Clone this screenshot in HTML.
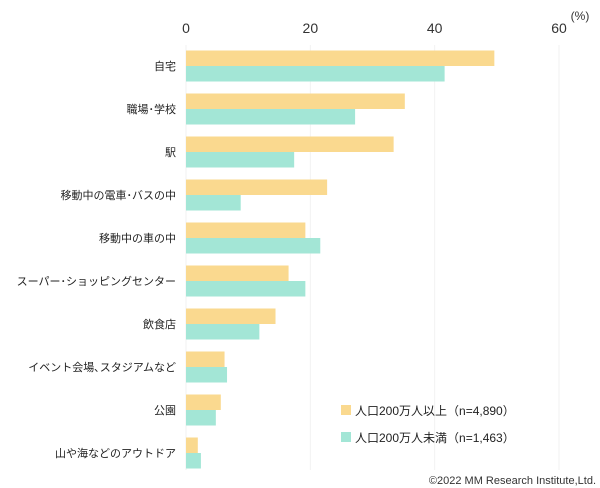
<!DOCTYPE html>
<html><head><meta charset="utf-8"><style>
body{margin:0;background:#fff;}
svg{display:block;font-family:"Liberation Sans","Noto Sans CJK JP",sans-serif;}
</style></head><body>
<svg id="chart" width="600" height="488"></svg>
<script>
const categories=["自宅","職場･学校","駅","移動中の電車･バスの中","移動中の車の中","スーパー･ショッピングセンター","飲食店","イベント会場､スタジアムなど","公園","山や海などのアウトドア"];
const seriesBig=[49.6,35.2,33.4,22.7,19.2,16.5,14.4,6.2,5.6,1.9];
const seriesSmall=[41.6,27.2,17.4,8.8,21.6,19.2,11.8,6.6,4.8,2.4];
const ticks=[0,20,40,60];
const seriesNames=["人口200万人以上（n=4,890）","人口200万人未満（n=1,463）"];
const colors=["#fad98f","#a3e6d6"];
const svg=document.getElementById('chart');
const NS='http://www.w3.org/2000/svg';
const x0=186,x60=559;
const xs=v=>x0+(x60-x0)*v/60;
const rowY=i=>66+i*43;
function mk(tag,attrs,txt){const e=document.createElementNS(NS,tag);for(const k in attrs)e.setAttribute(k,attrs[k]);if(txt!==undefined)e.textContent=txt;svg.appendChild(e);return e;}
ticks.forEach(t=>{
  const g=mk('line',{x1:xs(t),x2:xs(t),y1:45,y2:470,stroke:'#f2f2f2','stroke-width':1});
  
  
  const l=mk('text',{x:xs(t),y:33,'text-anchor':'middle','font-size':14,fill:'#333'},t);
  
  
});
const pu=mk('text',{x:580,y:20,'text-anchor':'middle','font-size':12,fill:'#333'},'(%)');


categories.forEach((c,i)=>{
  const y=rowY(i);
  const b1=mk('rect',{x:x0,y:y-15.5,width:xs(seriesBig[i])-x0,height:15.5,fill:colors[0]});
  
  
  const b2=mk('rect',{x:x0,y:y,width:xs(seriesSmall[i])-x0,height:15.5,fill:colors[1]});
  
  
  const t=mk('text',{x:176,y:y+4,'text-anchor':'end','font-size':11,fill:'#222'},c);
  
  
});
seriesNames.forEach((n,i)=>{
  const y=410+i*27;
  const r=mk('rect',{x:341,y:y-5,width:10,height:10,fill:colors[i]});
  
  
  const t=mk('text',{x:355,y:y+5,'font-size':12,fill:'#222'},n);
  
  
});
const cp=mk('text',{x:596,y:484,'text-anchor':'end','font-size':11,fill:'#333'},'©2022 MM Research Institute,Ltd.');


</script>
</body></html>
